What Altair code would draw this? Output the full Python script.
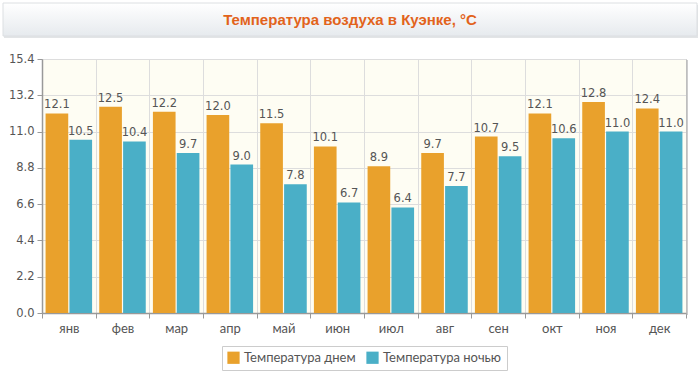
import altair as alt
import pandas as pd

months = ["янв", "фев", "мар", "апр", "май", "июн", "июл", "авг", "сен", "окт", "ноя", "дек"]
day_temp = [12.1, 12.5, 12.2, 12.0, 11.5, 10.1, 8.9, 9.7, 10.7, 12.1, 12.8, 12.4]
night_temp = [10.5, 10.4, 9.7, 9.0, 7.8, 6.7, 6.4, 7.7, 9.5, 10.6, 11.0, 11.0]
series = ["Температура днем", "Температура ночью"]
colors = ["#E9A12C", "#4AAFC7"]
y_ticks = [0.0, 2.2, 4.4, 6.6, 8.8, 11.0, 13.2, 15.4]
title_text = "Температура воздуха в Куэнке, °C"

rows = []
for m, d, n in zip(months, day_temp, night_temp):
    rows.append({"month": m, "series": series[0], "value": d})
    rows.append({"month": m, "series": series[1], "value": n})
df = pd.DataFrame(rows)

W, H = 644, 254

x_enc = alt.X(
    "month:N", sort=months,
    scale=alt.Scale(paddingInner=0, paddingOuter=0),
    axis=alt.Axis(
        title=None, labelAngle=0, tickBand="extent", grid=True, gridColor="#dddddd",
        tickSize=5, tickColor="#999999", domainColor="#999999", domainWidth=1.5,
        labelFont="Lato", labelFontSize=13, labelColor="#555555", labelPadding=4,
    ),
)
xoff_enc = alt.XOffset(
    "series:N", sort=series,
    scale=alt.Scale(paddingInner=0.05, paddingOuter=0.15),
)
y_enc = alt.Y(
    "value:Q",
    scale=alt.Scale(domain=[0, 15.4], nice=False, zero=True),
    axis=alt.Axis(
        title=None, values=y_ticks, format=".1f", grid=True, gridColor="#dddddd",
        tickSize=5, tickColor="#999999", domainColor="#999999", domainWidth=1.5,
        labelFont="DejaVu Sans", labelFontSize=11.5, labelColor="#555555", labelPadding=3,
        labelOverlap=False, labelFlush=False, labelBound=False, tickCount=8,
    ),
)

bars = alt.Chart(df).mark_bar().encode(
    x=x_enc,
    xOffset=xoff_enc,
    y=y_enc,
    color=alt.Color(
        "series:N", sort=series,
        scale=alt.Scale(domain=series, range=colors),
        legend=alt.Legend(
            title=None, orient="none", legendX=180, legendY=287, direction="horizontal",
            symbolType="square", symbolSize=150, symbolStrokeWidth=0,
            labelFont="Lato", labelFontSize=13, labelColor="#555555",
            strokeColor="#cccccc", fillColor="white", padding=5, columnPadding=10,
        ),
    ),
)

labels = alt.Chart(df).mark_text(
    baseline="bottom", dy=-3, font="DejaVu Sans", fontSize=11.5, color="#555555"
).encode(
    x=x_enc,
    xOffset=xoff_enc,
    y=y_enc,
    text=alt.Text("value:Q", format=".1f"),
)

tdf = pd.DataFrame({"t": [title_text]})

title_shadow = alt.Chart(tdf).mark_rect(fill="#d5d8db", opacity=0.7).encode(
    x=alt.value(-38), x2=alt.value(656), y=alt.value(-54), y2=alt.value(-21)
)
title_box = alt.Chart(tdf).mark_rect(
    fill=alt.LinearGradient(
        gradient="linear",
        stops=[alt.GradientStop(color="#ffffff", offset=0), alt.GradientStop(color="#e6eaee", offset=1)],
        x1=0, x2=0, y1=0, y2=1,
    ),
    stroke="#dcdfe2", strokeWidth=1,
).encode(x=alt.value(-39), x2=alt.value(655), y=alt.value(-56), y2=alt.value(-23))
title_txt = alt.Chart(tdf).mark_text(
    font="Liberation Sans", fontSize=15, fontWeight="bold", color="#E2631B",
    align="center", baseline="middle",
).encode(x=alt.value(308), y=alt.value(-39), text="t:N")

right_shadow = alt.Chart(tdf).mark_rect(fill="#aaaaaa", opacity=0.6).encode(
    x=alt.value(W), x2=alt.value(W + 2), y=alt.value(1), y2=alt.value(H + 2)
)

chart = alt.layer(
    title_shadow, title_box, title_txt, bars, labels, right_shadow
).properties(
    width=W, height=H,
    autosize=alt.AutoSizeParams(type="none"),
    padding={"left": 42, "top": 59, "right": 14, "bottom": 63},
    background="white",
).configure_view(
    fill="#FEFDF3", stroke="#999999", strokeWidth=1
)

chart.save("out.html", embed_options={"renderer": "svg", "actions": False})
